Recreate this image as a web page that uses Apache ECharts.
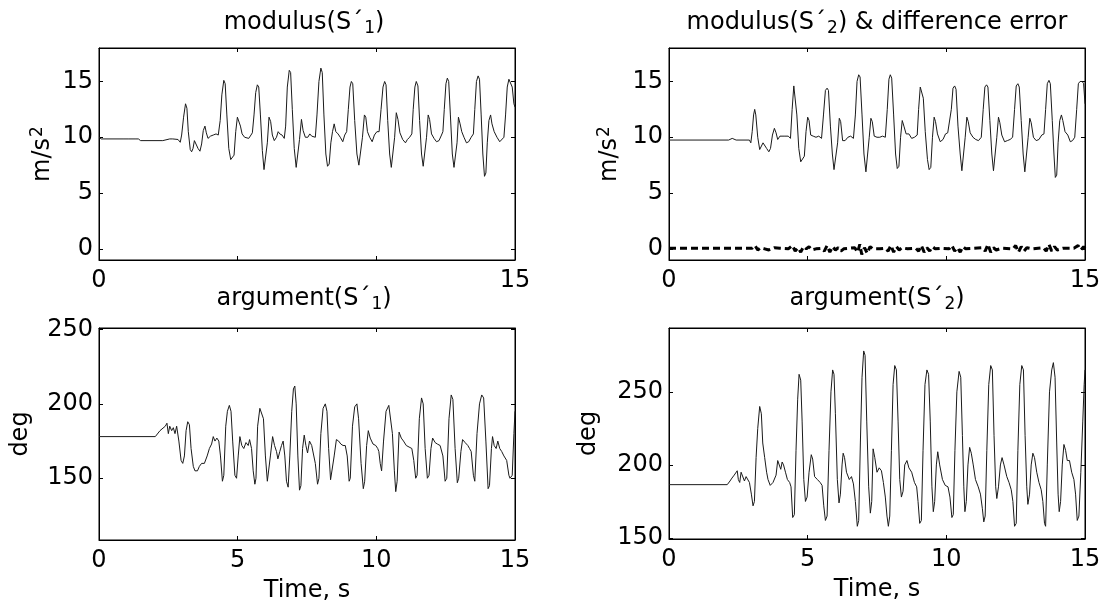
<!DOCTYPE html>
<html>
<head>
<meta charset="utf-8">
<title>modulus / argument</title>
<script src="https://cdn.jsdelivr.net/npm/echarts@6/dist/echarts.min.js"></script>
<style>
  html, body { margin: 0; padding: 0; background: #fff; }
  #chart { width: 1105px; height: 610px; }
</style>
</head>
<body>
<div id="chart"></div>
<script>
  /******************/
  //region    //data

  // tick positions / labels
  const timeTicks = [0, 5, 10, 15];
  const timeLabelsTop = [0, 15];
  const modTicks = [0, 5, 10, 15];
  const arg1Ticks = [150, 200, 250];
  const arg2Ticks = [150, 200, 250];

  // [time s, m/s^2] modulus(S'1)
  const mod1 = [
    [0,10.0],[0.08,9.85],[0.9,9.85],[0.97,9.75],[1.05,9.85],[1.3,9.85],[1.36,9.75],[1.42,9.85],[1.5,9.7],[2.3,9.7],[2.36,9.85],[2.55,9.85],[2.6,9.75],[2.66,9.85],[2.85,9.8],[2.93,9.55],[2.98,10.2],
    [3.05,11.8],[3.12,13.0],[3.17,12.6],[3.22,10.5],[3.29,8.9],[3.34,8.7],[3.39,9.0],[3.44,9.7],[3.5,9.6],[3.57,9.0],[3.64,8.75],[3.7,9.4],[3.76,10.6],[3.82,11.0],[3.87,10.4],[3.93,9.9],[4.02,10.1],[4.12,10.2],[4.22,10.3],[4.3,10.2],
    [4.37,11.5],[4.43,13.8],[4.5,15.1],[4.55,14.8],[4.61,12.0],[4.68,9.0],[4.75,8.0],[4.82,8.0],[4.87,8.4],[4.93,10.5],[4.99,11.8],[5.05,11.9],[5.1,11.0],[5.16,10.3],[5.25,10.0],[5.32,10.1],[5.4,9.9],[5.48,10.2],[5.53,10.4],
    [5.59,12.0],[5.65,14.0],[5.71,14.7],[5.76,14.5],[5.82,12.0],[5.89,8.8],[5.95,7.1],[6.01,7.2],[6.07,9.5],[6.13,11.8],[6.19,11.4],[6.25,10.2],[6.32,9.7],[6.4,10.0],[6.46,10.5],[6.52,10.3],[6.6,10.2],[6.68,9.9],
    [6.73,11.0],[6.79,14.5],[6.86,16.0],[6.91,15.8],[6.97,12.5],[7.04,9.0],[7.11,7.3],[7.17,7.3],[7.23,9.8],[7.3,11.6],[7.36,10.6],[7.44,10.0],[7.53,10.0],[7.6,10.3],[7.67,10.1],[7.8,10.0],
    [7.86,12.0],[7.93,15.0],[8.0,16.2],[8.05,15.8],[8.11,12.0],[8.18,8.5],[8.24,7.4],[8.3,7.6],[8.36,9.5],[8.42,10.5],[8.48,11.2],[8.54,10.5],[8.62,10.3],[8.7,10.0],[8.79,9.6],[8.86,10.2],[8.93,10.5],
    [8.99,12.5],[9.05,14.5],[9.1,15.0],[9.15,14.8],[9.22,11.5],[9.3,8.5],[9.37,7.5],[9.43,7.5],[9.5,10.0],[9.57,12.0],[9.62,11.8],[9.68,10.5],[9.76,10.0],[9.85,9.6],[9.93,10.2],[10.02,10.5],[10.1,10.5],
    [10.17,12.5],[10.24,14.5],[10.3,15.0],[10.35,14.7],[10.41,11.5],[10.48,8.5],[10.54,7.3],[10.6,7.4],[10.66,10.0],[10.72,12.2],[10.78,11.6],[10.85,10.4],[10.95,9.8],[11.05,9.5],[11.12,9.8],[11.2,10.0],[11.28,10.3],
    [11.33,12.5],[11.39,14.5],[11.44,15.0],[11.5,14.6],[11.56,11.5],[11.63,8.5],[11.69,7.4],[11.75,7.5],[11.81,10.0],[11.87,12.0],[11.92,11.6],[11.99,10.3],[12.08,9.9],[12.17,9.6],[12.26,9.7],[12.35,10.2],[12.4,10.5],
    [12.45,12.5],[12.51,14.8],[12.56,15.3],[12.61,15.0],[12.67,12.0],[12.74,8.5],[12.8,7.3],[12.86,7.4],[12.91,9.5],[12.96,11.8],[13.02,11.2],[13.08,10.5],[13.16,10.0],[13.25,9.5],[13.33,9.6],[13.42,10.0],[13.5,10.3],
    [13.55,12.5],[13.61,15.0],[13.67,15.5],[13.72,15.2],[13.78,12.0],[13.84,8.5],[13.9,6.5],[13.95,6.8],[14.0,9.5],[14.06,11.5],[14.12,12.0],[14.17,11.2],[14.25,10.5],[14.35,10.0],[14.45,9.6],[14.52,9.7],[14.6,10.0],
    [14.66,12.0],[14.72,14.5],[14.78,15.2],[14.84,15.1],[14.9,14.5],[14.96,13.0],[15.0,12.7]
  ];

  // [time s, m/s^2] modulus(S'2)
  const mod2 = [
    [0,9.75],[2.15,9.75],[2.2,9.6],[2.28,9.9],[2.35,9.8],[2.42,9.75],[2.9,9.75],[2.95,9.5],[3.0,10.5],[3.05,12.0],[3.09,12.5],[3.13,12.0],[3.2,10.0],[3.27,8.9],[3.33,8.9],[3.39,9.5],[3.45,9.6],[3.52,9.0],[3.6,8.7],[3.66,9.0],[3.73,10.2],[3.8,10.8],[3.86,10.4],[3.92,9.8],[4.0,10.1],[4.15,10.1],[4.3,10.1],[4.38,9.9],
    [4.44,12.5],[4.5,14.6],[4.55,14.5],[4.61,12.0],[4.68,9.0],[4.75,7.8],[4.82,7.8],[4.88,8.3],[4.94,10.5],[5.0,11.8],[5.05,11.5],[5.11,10.2],[5.2,10.1],[5.3,10.0],[5.4,10.1],[5.5,9.9],
    [5.57,12.0],[5.64,14.2],[5.7,14.4],[5.75,14.2],[5.82,11.0],[5.89,8.5],[5.95,7.1],[6.01,7.2],[6.08,9.5],[6.14,11.7],[6.19,11.4],[6.26,9.7],[6.35,9.7],[6.45,10.0],[6.55,10.1],[6.65,9.9],
    [6.72,12.0],[6.78,15.0],[6.84,15.6],[6.89,15.4],[6.96,12.0],[7.03,8.5],[7.1,6.9],[7.16,7.0],[7.22,10.0],[7.28,11.7],[7.33,11.4],[7.4,10.1],[7.5,10.0],[7.6,10.0],[7.7,10.1],[7.8,10.0],
    [7.87,12.5],[7.93,15.2],[7.98,15.6],[8.03,15.3],[8.1,12.0],[8.17,8.5],[8.23,7.2],[8.29,7.4],[8.35,10.0],[8.41,11.5],[8.47,11.0],[8.55,10.3],[8.65,10.3],[8.75,9.9],[8.85,10.0],[8.95,10.2],
    [9.0,12.5],[9.06,14.5],[9.11,14.5],[9.17,13.5],[9.24,10.5],[9.32,8.0],[9.38,7.1],[9.44,7.3],[9.5,10.0],[9.56,11.8],[9.61,11.4],[9.68,10.3],[9.78,9.6],[9.88,9.8],[9.97,10.3],[10.05,10.4],
    [10.18,12.5],[10.24,14.4],[10.3,14.6],[10.35,14.3],[10.42,11.0],[10.5,8.5],[10.56,7.0],[10.62,7.1],[10.68,10.0],[10.74,11.8],[10.79,11.4],[10.86,10.4],[10.96,10.0],[11.06,9.8],[11.16,9.7],[11.26,10.0],
    [11.33,12.5],[11.39,14.5],[11.45,14.7],[11.5,14.5],[11.57,11.5],[11.64,8.5],[11.7,7.0],[11.76,7.1],[11.82,10.0],[11.88,11.8],[11.93,11.3],[12.0,10.2],[12.1,9.6],[12.2,9.7],[12.3,9.8],[12.39,10.0],
    [12.46,12.5],[12.52,14.6],[12.58,14.8],[12.63,14.5],[12.7,11.5],[12.77,8.5],[12.83,6.9],[12.89,7.0],[12.95,10.0],[13.01,11.7],[13.06,11.3],[13.14,10.0],[13.24,9.7],[13.34,9.8],[13.44,10.2],[13.52,10.3],
    [13.58,12.5],[13.64,14.8],[13.7,15.1],[13.75,14.8],[13.82,11.5],[13.88,8.5],[13.93,6.4],[13.98,6.6],[14.03,9.5],[14.09,11.5],[14.15,12.0],[14.2,11.5],[14.28,10.5],[14.38,10.2],[14.47,9.6],[14.55,9.7],[14.63,10.0],
    [14.7,12.5],[14.76,14.8],[14.82,15.0],[14.9,15.0],[14.95,14.8],[15.0,13.0]
  ];

  // [time s, m/s^2] difference error
  const diffErr = [
    [0,0.05],[3.0,0.05],[3.1,0.3],[3.2,-0.1],[3.3,0.1],[3.45,0.0],[3.6,-0.1],[3.8,0.1],[4.0,0.05],[4.3,0.0],[4.45,0.3],[4.55,-0.2],[4.65,0.1],[4.75,-0.3],[4.85,0.2],[4.95,0.0],[5.05,0.2],[5.15,-0.1],[5.3,0.0],[5.5,0.05],
    [5.6,-0.2],[5.7,0.3],[5.8,-0.3],[5.9,0.2],[6.0,-0.1],[6.1,0.1],[6.2,-0.2],[6.3,0.0],[6.5,0.05],[6.7,0.1],[6.8,-0.3],[6.88,0.4],[6.95,-0.5],[7.05,0.1],[7.15,-0.4],[7.25,0.2],[7.35,0.0],[7.6,0.0],[7.8,0.05],
    [7.9,-0.2],[8.0,0.3],[8.1,-0.3],[8.2,0.2],[8.3,-0.1],[8.4,0.1],[8.6,0.0],[8.9,0.05],[9.0,-0.2],[9.1,0.3],[9.2,-0.3],[9.3,0.1],[9.4,-0.2],[9.5,0.2],[9.6,0.0],[9.8,0.05],
    [10.1,0.0],[10.2,0.3],[10.3,-0.2],[10.4,0.1],[10.5,-0.3],[10.6,0.2],[10.7,0.0],[11.0,0.05],[11.3,0.1],[11.4,-0.2],[11.5,0.4],[11.6,-0.3],[11.7,0.1],[11.8,-0.1],[12.0,0.05],
    [12.4,0.0],[12.5,0.3],[12.6,-0.3],[12.7,0.2],[12.8,-0.2],[12.9,0.1],[13.1,0.0],[13.5,0.1],[13.6,-0.2],[13.7,0.4],[13.8,-0.2],[13.9,0.2],[14.0,-0.1],[14.2,0.05],[14.6,0.05],[14.75,0.3],[14.85,-0.1],[14.95,0.2],[15.0,0.0]
  ];

  // [time s, deg] argument(S'1)
  const arg1 = [
    [0,178],[2.03,178],[2.2,182],[2.39,185],[2.45,187],[2.5,180],[2.55,185],[2.62,182],[2.68,184],[2.74,180],[2.8,185],[2.88,175],[2.96,162],[3.02,160],[3.08,165],[3.14,182],[3.2,188],[3.26,186],[3.32,170],[3.4,158],[3.46,155],[3.55,155],[3.62,158],[3.7,160],[3.8,160],[3.9,165],[3.98,170],[4.06,173],[4.12,178],[4.18,175],[4.25,177],[4.32,175],[4.38,165],
    [4.45,148],[4.5,152],[4.57,185],[4.63,195],[4.7,199],[4.76,195],[4.82,175],[4.9,152],[4.96,150],[5.02,165],[5.08,178],[5.15,172],[5.22,170],[5.3,174],[5.38,172],[5.43,176],[5.5,170],[5.56,155],
    [5.62,146],[5.66,150],[5.72,185],[5.8,197],[5.87,198],[5.93,190],[6.0,165],[6.07,148],[6.13,147],[6.18,165],[6.26,178],[6.33,172],[6.4,168],[6.45,163],[6.52,168],[6.58,172],[6.64,175],[6.7,165],
    [6.76,148],[6.82,144],[6.88,165],[6.95,195],[7.01,210],[7.06,212],[7.11,200],[7.17,165],[7.23,142],[7.28,145],[7.34,170],[7.4,179],[7.46,172],[7.52,167],[7.59,175],[7.67,172],[7.74,171],[7.8,160],
    [7.88,146],[7.93,150],[8.0,180],[8.08,197],[8.16,200],[8.22,195],[8.28,170],[8.35,149],[8.41,150],[8.48,165],[8.56,176],[8.64,175],[8.72,173],[8.8,172],[8.88,172],[8.95,165],
    [9.02,148],[9.06,150],[9.14,185],[9.22,198],[9.3,200],[9.36,190],[9.45,160],[9.53,143],[9.58,148],[9.65,172],[9.71,182],[9.78,177],[9.88,173],[9.98,172],[10.05,170],[10.09,168],[10.14,160],
    [10.19,155],[10.26,175],[10.35,195],[10.45,199],[10.51,200],[10.58,180],[10.65,155],[10.7,141],[10.75,148],[10.82,181],[10.9,177],[10.98,175],[11.08,172],[11.18,171],[11.28,170],[11.35,162],
    [11.42,150],[11.47,152],[11.55,190],[11.63,204],[11.69,200],[11.76,170],[11.84,150],[11.9,152],[11.97,170],[12.03,177],[12.12,174],[12.2,173],[12.3,172],[12.4,165],
    [12.48,148],[12.54,150],[12.62,190],[12.7,206],[12.76,203],[12.84,170],[12.92,147],[12.97,150],[13.05,168],[13.11,176],[13.2,174],[13.3,172],[13.36,170],[13.42,168],[13.5,152],
    [13.55,148],[13.63,180],[13.72,200],[13.8,206],[13.87,204],[13.95,175],[14.03,143],[14.08,145],[14.15,170],[14.19,178],[14.25,172],[14.32,170],[14.38,175],[14.45,170],[14.52,168],[14.6,165],[14.7,162],
    [14.78,152],[14.82,150],[14.9,152],[14.96,180],[15.0,195]
  ];

  // [time s, deg] argument(S'2)
  const arg2 = [
    [0,186.5],[2.1,186.5],[2.2,189],[2.27,191],[2.35,193],[2.46,196],[2.5,190],[2.55,188],[2.6,195],[2.67,194],[2.72,189],[2.78,192],[2.85,193],[2.9,188],[2.97,180],[3.03,172],[3.08,175],[3.14,205],[3.2,225],[3.27,240],[3.33,235],[3.38,215],[3.45,205],[3.52,195],[3.57,190],[3.65,186],[3.75,188],[3.82,188],[3.86,193],[3.92,203],[3.97,202],[4.03,197],[4.08,202],[4.13,200],[4.2,195],[4.27,190],[4.35,188],[4.4,185],
    [4.46,164],[4.52,166],[4.58,210],[4.64,245],[4.69,262],[4.75,258],[4.8,230],[4.86,190],[4.92,175],[4.98,178],[5.05,195],[5.13,207],[5.18,204],[5.25,192],[5.35,190],[5.45,188],[5.52,186],[5.58,172],
    [5.64,162],[5.7,165],[5.77,210],[5.84,250],[5.9,265],[5.95,262],[6.0,235],[6.07,190],[6.13,174],[6.18,180],[6.24,200],[6.28,208],[6.33,205],[6.4,195],[6.5,190],[6.58,192],[6.65,187],[6.72,175],
    [6.79,158],[6.84,162],[6.9,215],[6.96,260],[7.02,278],[7.07,275],[7.13,230],[7.2,185],[7.26,167],[7.31,175],[7.36,211],[7.42,205],[7.5,195],[7.58,198],[7.66,196],[7.73,188],[7.8,178],[7.86,165],
    [7.91,158],[7.96,165],[8.02,210],[8.08,255],[8.14,268],[8.2,265],[8.26,230],[8.32,190],[8.38,178],[8.44,182],[8.5,200],[8.58,203],[8.65,198],[8.75,195],[8.85,188],[8.93,185],[8.98,175],
    [9.04,160],[9.1,162],[9.16,210],[9.23,255],[9.3,265],[9.36,262],[9.42,230],[9.48,185],[9.53,168],[9.58,175],[9.64,200],[9.69,209],[9.76,200],[9.86,190],[9.96,186],[10.06,185],[10.13,178],
    [10.2,164],[10.25,166],[10.31,210],[10.38,250],[10.46,264],[10.52,260],[10.58,220],[10.63,185],[10.67,168],[10.72,175],[10.78,200],[10.84,212],[10.9,208],[10.97,200],[11.05,190],[11.15,185],[11.23,180],[11.3,170],
    [11.35,161],[11.4,165],[11.46,210],[11.53,255],[11.6,268],[11.66,265],[11.72,220],[11.78,185],[11.82,177],[11.88,185],[11.95,200],[12.01,205],[12.08,200],[12.18,192],[12.26,188],[12.34,183],[12.4,175],
    [12.46,158],[12.52,160],[12.58,210],[12.65,255],[12.72,268],[12.78,265],[12.84,220],[12.9,185],[12.94,173],[13.0,180],[13.06,200],[13.12,208],[13.18,205],[13.26,195],[13.34,188],[13.42,183],[13.48,175],
    [13.54,160],[13.58,158],[13.64,200],[13.72,250],[13.8,265],[13.86,270],[13.92,260],[13.98,215],[14.03,180],[14.07,168],[14.12,175],[14.18,200],[14.24,214],[14.3,210],[14.36,203],[14.44,203],[14.52,195],[14.6,190],[14.66,180],
    [14.72,162],[14.78,165],[14.85,195],[14.92,230],[14.97,255],[15.0,265]
  ];

  //endregion

  /******************/
  //region    //axes

  const FONT = 'DejaVu Sans';
  const FS = 24;
  const INK = '#000';

  let textStyle = () => ({color: INK, fontFamily: FONT, fontSize: FS});

  // small raised / lowered figures for m/s^2 and S'_1
  let richMarks = () => ({
    sub: {color: INK, fontFamily: FONT, fontSize: 17, padding: [11, 0, 0, 1]},
    sup: {color: INK, fontFamily: FONT, fontSize: 17, padding: [0, 0, 11, 1]},
  });

  function xBottom(gi, labels, name) {
    return {
      type: 'value', gridIndex: gi, position: 'bottom', min: 0, max: 15,
      name: name || '', nameLocation: 'middle', nameGap: 39, nameTextStyle: textStyle(),
      axisLine: {onZero: false, lineStyle: {color: INK, width: 1}},
      axisTick: {inside: true, length: 4, lineStyle: {color: INK}, customValues: timeTicks},
      axisLabel: Object.assign(textStyle(), {margin: 9, customValues: labels}),
      splitLine: {show: false},
    };
  }

  function xTop(gi) {
    return {
      type: 'value', gridIndex: gi, position: 'top', min: 0, max: 15,
      axisLine: {onZero: false, lineStyle: {color: INK, width: 1}},
      axisTick: {inside: true, length: 4, lineStyle: {color: INK}, customValues: timeTicks},
      axisLabel: {show: false},
      splitLine: {show: false},
    };
  }

  function yLeft(gi, min, max, ticks, name, gap) {
    return {
      type: 'value', gridIndex: gi, position: 'left', min: min, max: max,
      name: name, nameLocation: 'middle', nameGap: gap, nameRotate: 90,
      nameTextStyle: Object.assign(textStyle(), {rich: richMarks()}),
      axisLine: {onZero: false, lineStyle: {color: INK, width: 1}},
      axisTick: {inside: true, length: 4, lineStyle: {color: INK}, customValues: ticks},
      axisLabel: Object.assign(textStyle(), {margin: 6, customValues: ticks}),
      splitLine: {show: false},
    };
  }

  function yRight(gi, min, max, ticks) {
    return {
      type: 'value', gridIndex: gi, position: 'right', min: min, max: max,
      axisLine: {onZero: false, lineStyle: {color: INK, width: 1}},
      axisTick: {inside: true, length: 4, lineStyle: {color: INK}, customValues: ticks},
      axisLabel: {show: false},
      splitLine: {show: false},
    };
  }

  function trace(gi, data, extra) {
    return Object.assign({
      type: 'line', xAxisIndex: gi, yAxisIndex: gi, data: data,
      showSymbol: false, symbol: 'none', clip: true, silent: true,
      lineStyle: {color: '#1a1a1a', width: 1},
    }, extra || {});
  }

  function title(text, x, y) {
    return {text: text, left: x, top: y, textAlign: 'center', padding: 0,
      textStyle: Object.assign(textStyle(), {fontWeight: 'normal', rich: richMarks()})};
  }

  //endregion

  /******************/
  //region    //chart

  let chart = echarts.init(document.getElementById('chart'), null, {renderer: 'canvas'});

  let option = {
    backgroundColor: '#fff',
    animation: false,
    title: [
      title('modulus(S\u00b4{sub|1})', 304, 9),
      title('modulus(S\u00b4{sub|2}) & difference error', 877, 9),
      title('argument(S\u00b4{sub|1})', 304, 285),
      title('argument(S\u00b4{sub|2})', 877, 285),
    ],
    grid: [
      {left: 99, top: 48, width: 416, height: 212},
      {left: 669, top: 48, width: 416, height: 212},
      {left: 99, top: 328, width: 416, height: 212},
      {left: 669, top: 328, width: 416, height: 211},
    ].map(g => Object.assign(g, {show: true, borderColor: INK, borderWidth: 1, backgroundColor: 'transparent'})),
    xAxis: [
      xBottom(0, timeLabelsTop), xBottom(1, timeLabelsTop),
      xBottom(2, timeTicks, 'Time, s'), xBottom(3, timeTicks, 'Time, s'),
      xTop(0), xTop(1), xTop(2), xTop(3),
    ],
    yAxis: [
      yLeft(0, -1, 18, modTicks, 'm/s{sup|2}', 42),
      yLeft(1, -1, 18, modTicks, 'm/s{sup|2}', 45),
      yLeft(2, 108.5, 251, arg1Ticks, 'deg', 66),
      yLeft(3, 149.3, 293.7, arg2Ticks, 'deg', 68),
      yRight(0, -1, 18, modTicks), yRight(1, -1, 18, modTicks),
      yRight(2, 108.5, 251, arg1Ticks), yRight(3, 149.3, 293.7, arg2Ticks),
    ],
    series: [
      trace(0, mod1),
      trace(1, mod2),
      trace(1, diffErr, {lineStyle: {color: '#000', width: 3, type: [7, 4]}}),
      trace(2, arg1),
      trace(3, arg2),
    ],
  };

  chart.setOption(option);

  //endregion
</script>
</body>
</html>
